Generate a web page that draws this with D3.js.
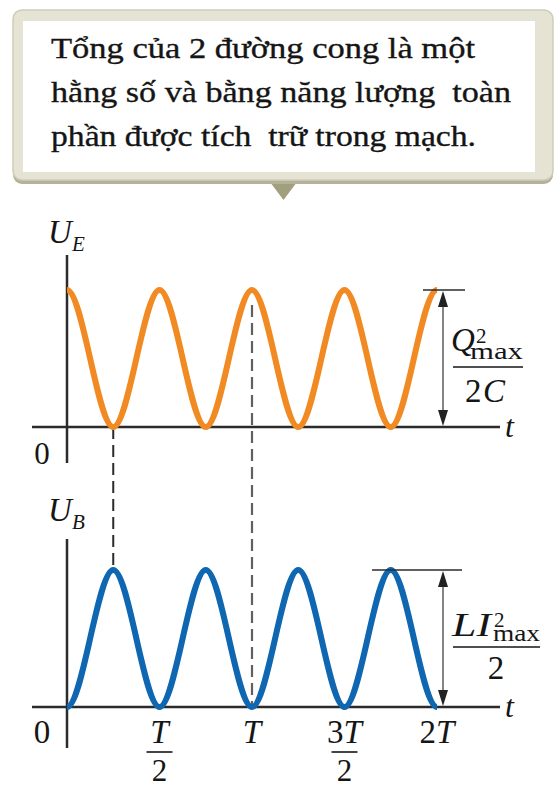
<!DOCTYPE html>
<html><head><meta charset="utf-8">
<script src="https://cdn.jsdelivr.net/npm/d3@7"></script>
<style>
html,body{margin:0;padding:0;background:#fff;}
svg{display:block;}
</style></head>
<body>
<script>
// ---- data ----
const calloutLines = ["Tổng của 2 đường cong là một", "hằng số và bằng năng lượng  toàn", "phần được tích  trữ trong mạch."];
const tValues = [0, 0.25, 0.5, 0.75, 1, 1.25, 1.5, 1.75, 2];        // time in units of T
const UE = [1, 0, 1, 0, 1, 0, 1, 0, 1];                               // electric energy (fraction of max)
const UB = [0, 1, 0, 1, 0, 1, 0, 1, 0];                               // magnetic energy (fraction of max)
const tickValues = [0, 0.5, 1, 1.5, 2];
const tickLabels = [{num:"0"}, {num:"T", den:"2"}, {num:"T"}, {num:"3T", den:"2"}, {num:"2T"}];
const dashedMarks = [0.25, 1];

const W = 558, H = 787;
const FONT = "'Liberation Serif','Times New Roman',serif";
const INK = "#151515";
const svg = d3.select("body").append("svg").attr("width", W).attr("height", H)
  .attr("font-family", FONT);

// ---- callout ----
const g0 = svg.append("g");
g0.append("path").attr("d","M267,178 L300,178 L283.5,200 Z").attr("fill","#a29f7e");
g0.append("rect").attr("x",13).attr("y",11).attr("width",540).attr("height",173).attr("rx",9)
  .attr("fill","#b4b298");
g0.append("rect").attr("x",13).attr("y",10).attr("width",540).attr("height",170).attr("rx",9)
  .attr("fill","#e4e3d4").attr("stroke","#cfcdb9").attr("stroke-width",1.5);
g0.append("rect").attr("x",23).attr("y",21).attr("width",512).attr("height",151).attr("fill","#ffffff");
const lineLens = [424, 460, 425];
calloutLines.forEach((s,i)=>{
  g0.append("text").attr("x",51).attr("y",58+i*44).attr("font-size",30).attr("fill",INK)
    .attr("stroke",INK).attr("stroke-width",0.35)
    .attr("textLength", lineLens[i]).attr("lengthAdjust","spacingAndGlyphs")
    .style("white-space","pre").text(s);
});

// ---- scales ----
const x = d3.scaleLinear().domain([0,2]).range([67,437]);
const yTop = d3.scaleLinear().domain([0,1]).range([427,290]);
const yBot = d3.scaleLinear().domain([0,1]).range([707,570]);

const axisColor = "#2b2b2b";
function drawAxes(y, yAxisTop, yAxisBottom){
  svg.append("line").attr("x1",32).attr("x2",500).attr("y1",y(0)).attr("y2",y(0))
    .attr("stroke",axisColor).attr("stroke-width",2.5);
  svg.append("line").attr("x1",x(0)).attr("x2",x(0)).attr("y1",yAxisTop).attr("y2",yAxisBottom)
    .attr("stroke",axisColor).attr("stroke-width",2.5);
  svg.append("text").attr("x",505).attr("y",y(0)+10).attr("font-size",32).attr("font-style","italic").attr("fill",INK).text("t");
}
drawAxes(yTop, 255, 463);
drawAxes(yBot, 539, 748);

// dashed guides
svg.append("line").attr("x1",x(dashedMarks[0])).attr("x2",x(dashedMarks[0]))
  .attr("y1",yTop(0)).attr("y2",yBot(1)).attr("stroke","#2a2a2a").attr("stroke-width",2).attr("stroke-dasharray","12,6");
svg.append("line").attr("x1",x(dashedMarks[1])).attr("x2",x(dashedMarks[1]))
  .attr("y1",yTop(1)+15).attr("y2",yBot(0)).attr("stroke","#606060").attr("stroke-width",2.2).attr("stroke-dasharray","12,6");

// curves (endpoints padded by mirroring neighbours so the tangent stays flat, then clipped)
svg.append("clipPath").attr("id","clipX").append("rect")
  .attr("x",x(0)).attr("y",0).attr("width",x(2)-x(0)).attr("height",H);
function padded(vals){
  const n = vals.length;
  const pts = tValues.map((t,i)=>({t, v:vals[i]}));
  return [{t:2*tValues[0]-tValues[1], v:vals[1]}, ...pts, {t:2*tValues[n-1]-tValues[n-2], v:vals[n-2]}];
}
const lineTop = d3.line().x(d=>x(d.t)).y(d=>yTop(d.v)).curve(d3.curveMonotoneX);
const lineBot = d3.line().x(d=>x(d.t)).y(d=>yBot(d.v)).curve(d3.curveMonotoneX);
svg.append("path").attr("d",lineTop(padded(UE))).attr("clip-path","url(#clipX)")
  .attr("fill","none").attr("stroke","#f18a22").attr("stroke-width",6);
svg.append("path").attr("d",lineBot(padded(UB))).attr("clip-path","url(#clipX)")
  .attr("fill","none").attr("stroke","#0f67b1").attr("stroke-width",6);

// y labels
function yLabel(yb, sub){
  svg.append("text").attr("x",48).attr("y",yb).attr("font-size",33).attr("font-style","italic").attr("fill",INK).text("U");
  svg.append("text").attr("x",72).attr("y",yb+8).attr("font-size",21).attr("font-style","italic").attr("fill",INK).text(sub);
}
yLabel(243, "E");
yLabel(521, "B");
// origin label of top
svg.append("text").attr("x",42).attr("y",464).attr("font-size",31).attr("text-anchor","middle").attr("fill",INK).text("0");

// tick labels bottom
tickLabels.forEach((d,i)=>{
  const cx = i===0 ? 42 : x(tickValues[i]);
  const g = svg.append("g");
  const t = g.append("text").attr("x",cx).attr("y",743).attr("font-size",33).attr("text-anchor","middle").attr("fill",INK);
  if (d.num.endsWith("T")) {
    if (d.num.length>1) t.append("tspan").text(d.num.slice(0,-1));
    t.append("tspan").attr("font-style","italic").text("T");
  } else t.text(d.num);
  if (d.den) {
    g.append("line").attr("x1",cx-13).attr("x2",cx+13).attr("y1",752).attr("y2",752).attr("stroke",INK).attr("stroke-width",1.6);
    g.append("text").attr("x",cx).attr("y",781).attr("font-size",31).attr("text-anchor","middle").attr("fill",INK).text(d.den);
  }
});

// magnitude annotations
function bracket(y, x1, x2){
  svg.append("line").attr("x1",x1).attr("x2",x2).attr("y1",y(1)).attr("y2",y(1)).attr("stroke","#2b2b2b").attr("stroke-width",1.6);
  const ax = 443, top = y(1), bot = y(0);
  svg.append("line").attr("x1",ax).attr("x2",ax).attr("y1",top+8).attr("y2",bot-8).attr("stroke","#666").attr("stroke-width",1.6);
  svg.append("path").attr("d",`M${ax},${top+1} L${ax-5},${top+17} L${ax+5},${top+17} Z`).attr("fill","#222");
  svg.append("path").attr("d",`M${ax},${bot-1} L${ax-5},${bot-17} L${ax+5},${bot-17} Z`).attr("fill","#222");
}
bracket(yTop, 423, 465);
bracket(yBot, 372, 462);

function txt(xp, yp, size, s, opts={}){
  const t = svg.append("text").attr("x",xp).attr("y",yp).attr("font-size",size).attr("fill",INK);
  if (opts.italic) t.attr("font-style","italic");
  if (opts.len) t.attr("textLength",opts.len).attr("lengthAdjust","spacingAndGlyphs");
  if (opts.anchor) t.attr("text-anchor",opts.anchor);
  t.text(s);
  return t;
}
// Q^2max / 2C
txt(451, 351, 33, "Q", {italic:true});
txt(476, 343, 21, "2");
txt(470, 359, 24, "max", {len:53});
svg.append("line").attr("x1",453).attr("x2",523).attr("y1",367).attr("y2",367).attr("stroke",INK).attr("stroke-width",1.6);
txt(465, 402, 33, "2");
txt(483, 402, 33, "C", {italic:true});
// L I^2max / 2
txt(452, 636, 33, "LI", {italic:true, len:39});
txt(494, 627, 21, "2");
txt(493, 641, 24, "max", {len:47});
svg.append("line").attr("x1",453).attr("x2",540).attr("y1",647).attr("y2",647).attr("stroke",INK).attr("stroke-width",1.6);
txt(496, 679, 33, "2", {anchor:"middle"});
</script>
</body></html>
